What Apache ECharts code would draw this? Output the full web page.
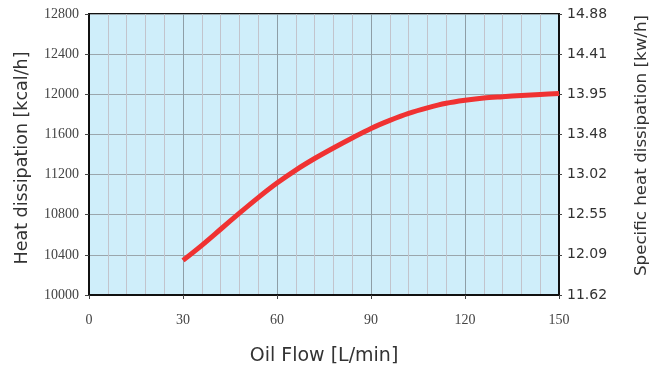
<!DOCTYPE html>
<html>
<head>
<meta charset="utf-8">
<script src="https://cdn.jsdelivr.net/npm/echarts@6/dist/echarts.min.js"></script>
<style>
  html, body { margin: 0; padding: 0; background: #fff; }
  #chart { width: 666px; height: 367px; }
</style>
</head>
<body>
<div id="chart"></div>
<script>
  // oil flow [L/min] and heat dissipation [kcal/h]
  var oilFlow = [30, 36, 42, 48, 54, 60, 66, 72, 78, 84, 90, 96, 102, 108, 114, 120, 126, 132, 138, 144, 150]
  var heatKcal = [10345, 10495, 10655, 10815, 10970, 11115, 11245, 11360, 11465, 11565, 11660, 11740, 11810, 11865, 11910, 11940, 11963, 11976, 11988, 11998, 12008]
  var rightTickLabels = ['11.62', '12.09', '12.55', '13.02', '13.48', '13.95', '14.41', '14.88']

  var chart = echarts.init(document.getElementById('chart'))
  var sans = 'DejaVu Sans'
  var serif = 'Liberation Serif'

  chart.setOption({
    animation: false,
    grid: {
      left: 89,
      right: 107,
      top: 14,
      bottom: 72,
      containLabel: false,
      outerBoundsMode: 'none',
      show: true,
      backgroundColor: '#cfeefa',
      borderColor: '#111',
      borderWidth: 2
    },
    xAxis: {
      type: 'value',
      min: 0,
      max: 150,
      interval: 30,
      name: 'Oil Flow [L/min]',
      nameLocation: 'middle',
      nameGap: 52,
      nameTextStyle: { fontFamily: sans, fontSize: 19, color: '#333' },
      axisLine: { show: true, lineStyle: { color: '#111', width: 2 } },
      axisTick: { show: true, length: 4, lineStyle: { color: '#444' } },
      axisLabel: { margin: 18, fontFamily: serif, fontSize: 14, color: '#444' },
      splitLine: { show: true, lineStyle: { color: '#8e9ea6', width: 1 } },
      minorTick: { show: false, splitNumber: 5 },
      minorSplitLine: { show: true, lineStyle: { color: '#c2c4cc', width: 1 } }
    },
    yAxis: [
      {
        type: 'value',
        min: 10000,
        max: 12800,
        interval: 400,
        name: 'Heat dissipation [kcal/h]',
        nameLocation: 'middle',
        nameGap: 58,
        nameTextStyle: { fontFamily: sans, fontSize: 17.5, color: '#333', padding: [0, 7, 0, 0] },
        axisLine: { show: true, lineStyle: { color: '#111', width: 2 } },
        axisTick: { show: true, length: 4, lineStyle: { color: '#444' } },
        axisLabel: {
          margin: 10,
          fontFamily: serif,
          fontSize: 14,
          color: '#444',
          formatter: function (v) { return String(v) }
        },
        splitLine: { show: true, lineStyle: { color: '#9aa6ac', width: 1 } }
      },
      {
        type: 'value',
        position: 'right',
        min: 10000,
        max: 12800,
        interval: 400,
        name: 'Specific heat dissipation [kw/h]',
        nameLocation: 'middle',
        nameGap: 74,
        nameRotate: 90,
        nameTextStyle: { fontFamily: sans, fontSize: 16.7, color: '#333', padding: [0, 0, 0, 18] },
        axisLine: { show: true, lineStyle: { color: '#111', width: 2 } },
        axisTick: { show: true, length: 3, lineStyle: { color: '#444' } },
        axisLabel: {
          margin: 8,
          fontFamily: sans,
          fontSize: 14,
          color: '#333',
          formatter: function (v) {
            return rightTickLabels[Math.round((v - 10000) / 400)]
          }
        },
        splitLine: { show: false }
      }
    ],
    series: [
      {
        type: 'line',
        data: oilFlow.map(function (x, i) { return [x, heatKcal[i]] }),
        smooth: 0.3,
        showSymbol: false,
        lineStyle: { color: '#f03232', width: 5 }
      }
    ]
  })
</script>
</body>
</html>
